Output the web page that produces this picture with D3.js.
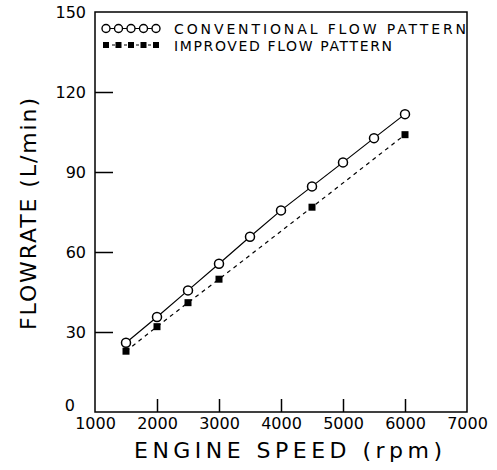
<!DOCTYPE html>
<html>
<head>
<meta charset="utf-8">
<script src="https://cdn.jsdelivr.net/npm/d3@7"></script>
<style>
  body { margin: 0; background: #fff; }
  text { font-family: "DejaVu Sans", sans-serif; fill: #000; }
</style>
</head>
<body>
<script>
// engine speed (rpm) and flowrate (L/min)
const speeds = [1500, 2000, 2500, 3000, 3500, 4000, 4500, 5000, 5500, 6000];
const conventional = [26, 35.6, 45.6, 55.6, 65.7, 75.6, 84.6, 93.6, 102.7, 111.7];
const improvedSpeeds = [1500, 2000, 2500, 3000, 4500, 6000];
const improved = [22.8, 32, 41, 49.8, 76.8, 104];
const xTicks = [1000, 2000, 3000, 4000, 5000, 6000, 7000];
const yTicks = [0, 30, 60, 90, 120, 150];
const legendLabels = ["CONVENTIONAL FLOW PATTERN", "IMPROVED FLOW PATTERN"];

const W = 497, H = 470;
const margin = {top: 12, right: 30, bottom: 58, left: 95};

const svg = d3.select("body").append("svg")
    .attr("width", W).attr("height", H);

const x = d3.scaleLinear().domain([1000, 7000]).range([margin.left, W - margin.right]);
const y = d3.scaleLinear().domain([0, 150]).range([H - margin.bottom, margin.top]);

// frame
svg.append("rect")
    .attr("x", x(1000)).attr("y", y(150))
    .attr("width", x(7000) - x(1000)).attr("height", y(0) - y(150))
    .attr("fill", "none").attr("stroke", "#000").attr("stroke-width", 1.5);

// axes, ticks drawn inward
const yAxis = svg.append("g")
    .attr("transform", "translate(" + x(1000) + ",0)")
    .call(d3.axisLeft(y).tickValues(yTicks).tickFormat(d3.format("d")).tickSize(-18).tickPadding(9));
const xAxis = svg.append("g")
    .attr("transform", "translate(0," + y(0) + ")")
    .call(d3.axisBottom(x).tickValues(xTicks).tickFormat(d3.format("d")).tickSize(-13).tickPadding(6));
[xAxis, yAxis].forEach(g => {
    g.select(".domain").remove();
    g.selectAll(".tick line").attr("stroke", "#000").attr("stroke-width", 1.5);
    g.selectAll(".tick text").attr("font-size", 16).attr("font-family", "DejaVu Sans, sans-serif");
});
yAxis.selectAll(".tick text").attr("dy", "0.35em");
yAxis.selectAll(".tick text").filter(d => d === 0).attr("dy", "-0.1em").attr("x", -20);
// top/right ticks are hidden by the frame, first x tick sits on the corner
xAxis.selectAll(".tick line").filter(d => d === 1000 || d === 7000).remove();
yAxis.selectAll(".tick line").filter(d => d === 0 || d === 150).remove();

// axis titles
svg.append("text")
    .attr("x", 288).attr("y", 458)
    .attr("text-anchor", "middle").attr("font-size", 22)
    .attr("textLength", 308).attr("lengthAdjust", "spacing")
    .text("ENGINE SPEED (rpm)");
svg.append("text")
    .attr("transform", "translate(36,214) rotate(-90)")
    .attr("text-anchor", "middle").attr("font-size", 22)
    .attr("textLength", 232).attr("lengthAdjust", "spacing")
    .text("FLOWRATE (L/min)");

// series
const conv = speeds.map((s, i) => ({s: s, v: conventional[i]}));
const impr = improvedSpeeds.map((s, i) => ({s: s, v: improved[i]}));
const line = d3.line().x(d => x(d.s)).y(d => y(d.v));

svg.append("path").datum(conv)
    .attr("d", line).attr("fill", "none").attr("stroke", "#000").attr("stroke-width", 1.2);
svg.append("path").datum(impr)
    .attr("d", line).attr("fill", "none").attr("stroke", "#000").attr("stroke-width", 1.2)
    .attr("stroke-dasharray", "4,4");

svg.selectAll("circle.conv").data(conv).enter().append("circle")
    .attr("class", "conv")
    .attr("cx", d => x(d.s)).attr("cy", d => y(d.v)).attr("r", 4.5)
    .attr("fill", "#fff").attr("stroke", "#000").attr("stroke-width", 1.5);
svg.selectAll("rect.impr").data(impr).enter().append("rect")
    .attr("class", "impr")
    .attr("x", d => x(d.s) - 3.5).attr("y", d => y(d.v) - 3.5)
    .attr("width", 7).attr("height", 7).attr("fill", "#000");

// legend
const lg = svg.append("g");
const lx = d3.range(5).map(i => 106 + i * 12.5);
lg.append("line").attr("x1", lx[0]).attr("x2", lx[4]).attr("y1", 28.5).attr("y2", 28.5)
    .attr("stroke", "#000").attr("stroke-width", 1.2);
lg.selectAll("circle").data(lx).enter().append("circle")
    .attr("cx", d => d).attr("cy", 28.5).attr("r", 4)
    .attr("fill", "#fff").attr("stroke", "#000").attr("stroke-width", 1.4);
lg.append("line").attr("x1", lx[0]).attr("x2", lx[4]).attr("y1", 45).attr("y2", 45)
    .attr("stroke", "#000").attr("stroke-width", 1.2).attr("stroke-dasharray", "3,3");
lg.selectAll("rect").data(lx).enter().append("rect")
    .attr("x", d => d - 3).attr("y", 42).attr("width", 6).attr("height", 6).attr("fill", "#000");
lg.selectAll("text").data(legendLabels).enter().append("text")
    .attr("x", 174).attr("y", (d, i) => 34 + i * 16.5)
    .attr("font-size", 14)
    .attr("textLength", (d, i) => i === 0 ? 292 : 218).attr("lengthAdjust", "spacing")
    .text(d => d);
</script>
</body>
</html>
